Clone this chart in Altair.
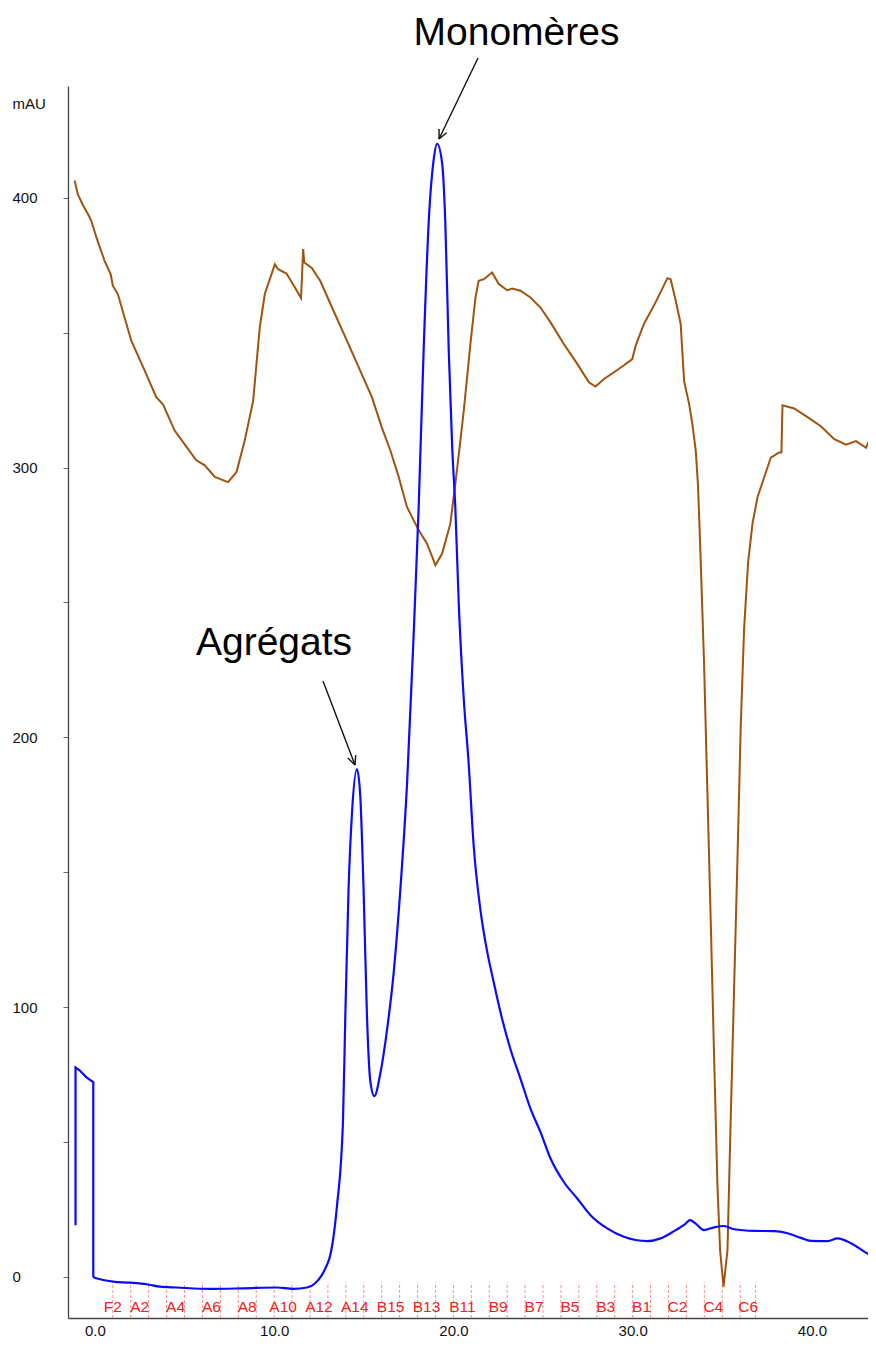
import altair as alt
import pandas as pd

# ---- data ----
brown_x = [-1.13, -0.95, -0.67, -0.35, -0.2, 0.1, 0.54, 0.88, 1.0, 1.28, 2.03, 2.78, 3.43, 3.8,
           4.45, 4.92, 5.66, 6.13, 6.69, 7.43, 7.9, 8.36, 8.83, 9.2, 9.48, 10.04, 10.22, 10.69,
           11.16, 11.5, 11.62, 11.68, 12.1, 12.57, 13.31, 14.06, 14.8, 15.46, 16.0, 16.48, 16.95,
           17.41, 18.06, 18.53, 19.0, 19.37, 19.83, 20.2, 20.58, 20.95, 21.23, 21.41, 21.7, 22.16,
           22.53, 23.0, 23.28, 23.74, 24.3, 24.86, 25.42, 26.16, 26.91, 27.56, 27.93, 28.4, 28.96,
           29.5, 29.98, 30.17, 30.63, 31.28, 31.94, 32.12, 32.4, 32.68, 32.87, 33.15, 33.33, 33.52,
           33.65, 33.8, 33.98, 34.17, 34.36, 34.54, 34.73, 34.88, 35.07, 35.29, 35.47, 35.66, 35.85,
           36.03, 36.22, 36.44, 36.69, 36.97, 37.34, 37.71, 38.17, 38.3, 38.36, 39.01, 39.76, 40.5,
           41.25, 41.9, 42.46, 43.02, 43.48]
brown_y = [406.4, 401.2, 397.3, 393.5, 391.4, 385.0, 376.6, 371.7, 367.4, 364.3, 347.0, 335.9, 326.0, 323.4,
           313.7, 309.4, 302.7, 300.8, 296.5, 294.6, 298.3, 310.0, 324.8, 352.0, 364.3, 375.3, 373.5, 371.9,
           366.7, 362.8, 381.0, 376.0, 374.0, 369.2, 358.1, 347.0, 335.9, 326.0, 315.0, 306.4, 296.5,
           285.4, 276.8, 271.8, 263.8, 268.1, 279.2, 299.0, 321.1, 345.8, 363.0, 369.2, 369.8, 372.3,
           368.0, 365.7, 366.3, 365.5, 363.0, 359.3, 353.8, 345.8, 338.4, 331.6, 330.0, 332.8, 335.3,
           337.8, 340.2, 345.2, 353.2, 361.2, 370.2, 369.8, 362.0, 353.2, 332.0, 323.6, 316.2, 306.3,
           293.0, 264.8, 228.4, 179.8, 131.2, 82.7, 34.1, 9.8, -3.6, 9.8, 58.4, 106.9, 155.5,
           204.1, 240.5, 264.8, 279.4, 289.1, 296.4, 303.7, 305.6, 305.6, 323.1, 321.9, 318.7, 315.3,
           310.5, 308.5, 309.8, 307.3, 314.6]

blue_x = [-1.08, -1.08, -0.84, -0.47, -0.09, -0.09, 0.46, 1.02, 1.96, 2.89, 3.63, 4.56, 6.42, 8.28,
          10.15, 11.08, 11.83, 12.29, 12.66, 12.94, 13.13, 13.5, 13.84, 13.97, 14.15, 14.34, 14.62,
          14.8, 14.99, 15.18, 15.36, 15.59, 15.92, 16.3, 16.67, 17.04, 17.42, 17.78, 18.06, 18.34,
          18.62, 18.9, 19.09, 19.37, 19.55, 19.74, 19.93, 20.11, 20.3, 20.58, 20.85, 21.13, 21.51,
          21.79, 22.25, 22.72, 23.18, 23.74, 24.3, 24.86, 25.42, 26.16, 26.91, 27.65, 28.58, 29.51,
          30.82, 31.56, 32.31, 32.96, 33.2, 33.52, 33.98, 34.54, 35.1, 35.66, 36.78, 37.9, 38.64,
          39.39, 39.94, 40.88, 41.43, 42.18, 42.92, 43.58]
blue_y = [19.2, 77.7, 76.5, 74.0, 72.2, -0.1, -1.1, -1.7, -2.1, -2.7, -3.6, -3.9, -4.4, -4.2,
          -3.9, -4.4, -3.9, -2.3, 0.7, 4.4, 8.1, 26.0, 57.7, 96.5, 143.5, 171.7, 188.2,
          178.8, 143.5, 96.5, 72.9, 67.0, 75.3, 91.7, 112.9, 143.5, 183.5, 237.6, 284.7, 343.5,
          390.6, 414.1, 420.0, 412.9, 390.6, 343.5, 308.2, 284.7, 249.4, 214.1, 190.6, 160.0, 136.0,
          124.0, 109.2, 95.6, 84.5, 73.5, 62.4, 53.7, 43.9, 35.2, 29.1, 22.9, 18.0, 14.9,
          13.3, 14.3, 17.0, 19.8, 21.1, 19.8, 17.4, 18.4, 18.9, 17.7, 17.1, 17.0, 16.2,
          14.5, 13.4, 13.3, 14.3, 12.5, 9.4, 6.9]

frac_marks = [float(v) for v in range(1, 37)] + [36.85]
frac_names = ["F2", "A2", "A4", "A6", "A8", "A10", "A12", "A14", "B15", "B13", "B11",
              "B9", "B7", "B5", "B3", "B1", "C2", "C4", "C6"]
frac_label_x = [1.0, 2.5, 4.5, 6.5, 8.5, 10.5, 12.5, 14.5, 16.5, 18.5, 20.5,
                22.5, 24.5, 26.5, 28.5, 30.5, 32.5, 34.5, 36.45]

x_ticks = [0, 10, 20, 30, 40]
y_ticks = [0, 50, 100, 150, 200, 250, 300, 350, 400]

# ---- tables ----
brown = pd.DataFrame({"x": brown_x, "y": brown_y, "i": range(len(brown_x))})
blue = pd.DataFrame({"x": blue_x, "y": blue_y, "i": range(len(blue_x))})
blue_head = blue.iloc[:6]          # injection artefact (vertical jumps)
blue_tail = blue.iloc[5:]          # chromatogram proper
fr = pd.DataFrame({"x": frac_marks, "y": [-15.2] * len(frac_marks), "y2": [-2.0] * len(frac_marks)})
fl = pd.DataFrame({"x": frac_label_x, "y": [-11.3] * len(frac_label_x), "name": frac_names})

FONT = "Liberation Sans"
xscale = alt.Scale(domain=[-1.5, 43.13], nice=False, zero=False)
yscale = alt.Scale(domain=[-15.2, 441.4], nice=False, zero=False)
xaxis = alt.Axis(values=x_ticks, format=".1f", ticks=False, tickSize=0, grid=False,
                 labelPadding=5, labelFontSize=15, labelFont=FONT, labelColor="#111",
                 domainColor="#444", domainWidth=1.3, title=None, labelFlush=False)
yaxis = alt.Axis(values=y_ticks, labelExpr="datum.value % 100 == 0 ? datum.value : ''",
                 tickSize=5, tickColor="#667", grid=False, labelAlign="left", labelPadding=51,
                 labelFontSize=15, labelFont=FONT, labelColor="#111", labelBaseline="middle",
                 domainColor="#444", domainWidth=1.3,
                 title="mAU", titleAngle=0, titleX=-56, titleY=22, titleAlign="left",
                 titleBaseline="alphabetic", titleFontSize=15, titleFont=FONT,
                 titleFontWeight="normal", titleColor="#111")
X = alt.X("x:Q", scale=xscale, axis=xaxis)
Y = alt.Y("y:Q", scale=yscale, axis=yaxis)

brown_line = alt.Chart(brown).mark_line(color="#a0520f", strokeWidth=2, clip=True).encode(
    x=X, y=Y, order="i:Q")
blue_line1 = alt.Chart(blue_head).mark_line(color="#0a0aff", strokeWidth=2.2, clip=True).encode(
    x=X, y=Y, order="i:Q")
blue_line2 = alt.Chart(blue_tail).mark_line(color="#0a0aff", strokeWidth=2.2, clip=True,
                                            interpolate="monotone").encode(
    x=X, y=Y, order="i:Q")
frac_rules = alt.Chart(fr).mark_rule(color="#ff8c8c", strokeWidth=1, strokeDash=[3, 2]).encode(
    x=X, y=Y, y2="y2:Q")
frac_text = alt.Chart(fl).mark_text(color="#f02020", fontSize=15.5, font=FONT,
                                    baseline="middle", align="center").encode(
    x=X, y=Y, text="name:N")

one = pd.DataFrame({"a": [0]})
# annotation arrows (pixel positions inside the plot area)
arrow_segments = [
    (410, -28, 371, 53), (371, 53, 378.7, 46.7), (371, 53, 371.1, 43),
    (255, 595, 287, 679), (287, 679, 287.7, 669), (287, 679, 279.8, 672.1),
]
arrows = [
    alt.Chart(one).mark_rule(color="#111", strokeWidth=1.4).encode(
        x=alt.value(a), y=alt.value(b), x2=alt.value(c), y2=alt.value(d))
    for (a, b, c, d) in arrow_segments
]
texts = [
    alt.Chart(pd.DataFrame({"t": ["Monomères"]})).mark_text(
        fontSize=39, font=FONT, color="#000", align="center", baseline="alphabetic").encode(
        x=alt.value(448.5), y=alt.value(-41), text="t:N"),
    alt.Chart(pd.DataFrame({"t": ["Agrégats"]})).mark_text(
        fontSize=39, font=FONT, color="#000", align="center", baseline="alphabetic").encode(
        x=alt.value(206), y=alt.value(569), text="t:N"),
]

chart = alt.layer(frac_rules, frac_text, brown_line, blue_line1, blue_line2, *arrows, *texts).properties(
    width=800, height=1232,
    autosize=alt.AutoSizeParams(type="none"),
    padding={"left": 60, "top": 78, "right": 0, "bottom": 21},
    background="white",
).configure_view(stroke=None)

chart.save("out.html", embed_options={"renderer": "svg", "actions": False})
